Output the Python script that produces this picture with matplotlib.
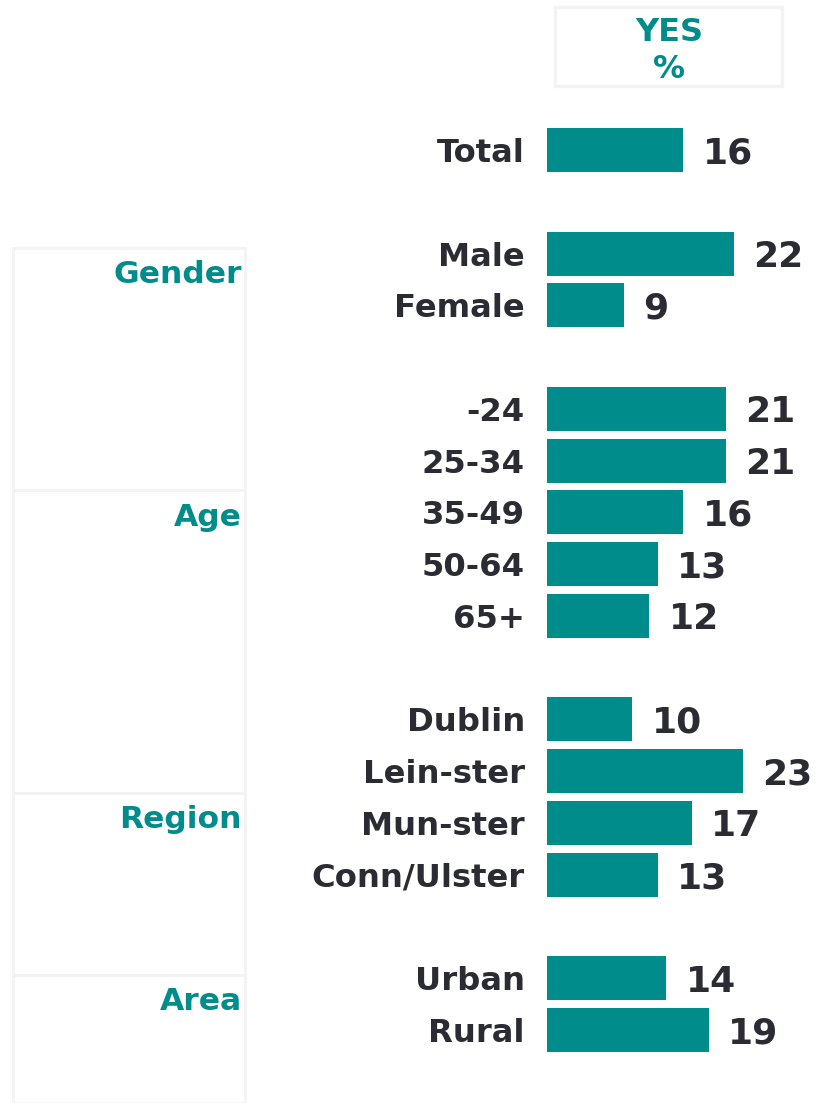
import matplotlib
matplotlib.use("Agg")
import matplotlib.pyplot as plt
from matplotlib.patches import Rectangle

categories = ["Total", "Male", "Female", "-24", "25-34", "35-49", "50-64", "65+",
              "Dublin", "Lein-ster", "Mun-ster", "Conn/Ulster", "Urban", "Rural"]
values = [16, 22, 9, 21, 21, 16, 13, 12, 10, 23, 17, 13, 14, 19]
slots = [0, 2, 3, 5, 6, 7, 8, 9, 11, 12, 13, 14, 16, 17]
groups = ["Gender", "Age", "Region", "Area"]
group_bounds_px = [(248, 490), (490, 793), (793, 975), (975, 1103)]
header = ["YES", "%"]

TEAL = "#008C8A"
DARK = "#2B2B33"
W, H = 816, 1103
plt.rcParams['font.family'] = ['DejaVu Sans']

fig = plt.figure(figsize=(W / 100, H / 100), dpi=100)

def fx(px):
    return px / W

def fy(py):
    return 1 - py / H

# bar axes
slot_px = (1030 - 150) / 17.0
top_px = 150 - slot_px / 2
bot_px = 1030 + slot_px / 2
ax = fig.add_axes([fx(547), fy(bot_px), fx(802) - fx(547), (bot_px - top_px) / H])
ax.barh(slots, values, height=0.85, color=TEAL)
ax.set_xlim(0, 30)
ax.set_ylim(17.5, -0.5)
ax.set_yticks(slots)
ax.set_yticklabels(categories, fontsize=23.2, fontweight="bold", color=DARK,
                   va="center_baseline")
ax.tick_params(axis="y", length=0, pad=16)
ax.set_xticks([])
for s in ax.spines.values():
    s.set_visible(False)
for s_, v in zip(slots, values):
    ax.annotate(str(v), (v, s_), xytext=(14, 0), textcoords="offset points",
                ha="left", va="center_baseline", fontsize=26, fontweight="bold",
                color=DARK)

# group boxes
for name, (t, b) in zip(groups, group_bounds_px):
    fig.patches.append(Rectangle((fx(13), fy(b)), fx(245) - fx(13), (b - t) / H,
                                 transform=fig.transFigure, fill=False,
                                 edgecolor="#F3F3F3", linewidth=2))
    fig.text(fx(242), fy(t + 24), name, ha="right", va="center_baseline",
             fontsize=22.6, fontweight="bold", color=TEAL)

# header box
fig.patches.append(Rectangle((fx(555), fy(86)), fx(782) - fx(555), (86 - 7) / H,
                             transform=fig.transFigure, fill=False,
                             edgecolor="#F3F3F3", linewidth=2.5))
fig.text(fx(669), fy(29), header[0], ha="center", va="center_baseline",
         fontsize=23, fontweight="bold", color=TEAL)
fig.text(fx(669), fy(66), header[1], ha="center", va="center_baseline",
         fontsize=23, fontweight="bold", color=TEAL)

fig.savefig("out.png", dpi=100)
